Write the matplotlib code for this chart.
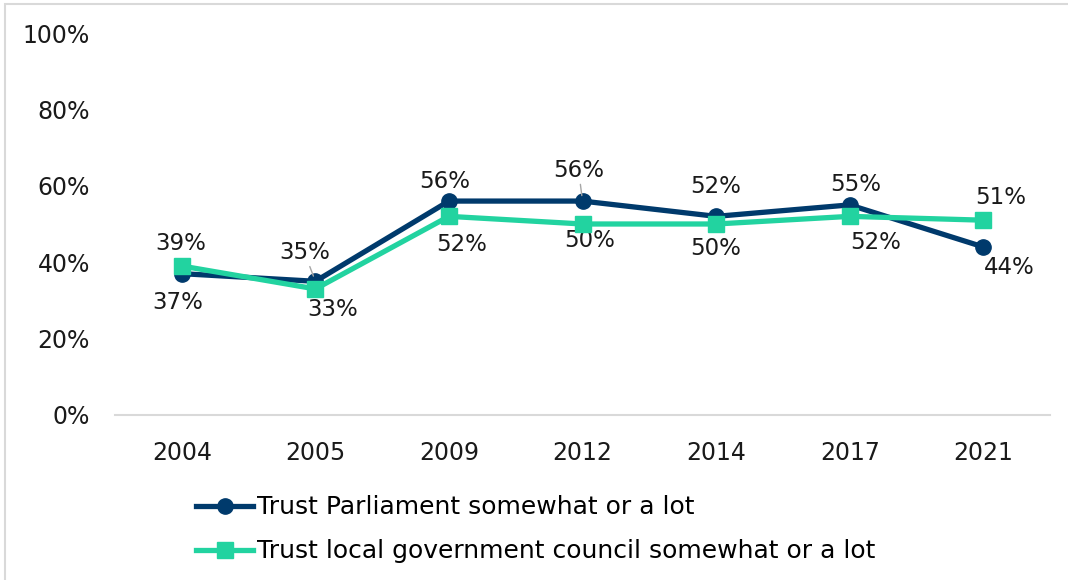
import matplotlib.pyplot as plt
from matplotlib.patches import Rectangle

years = ['2004', '2005', '2009', '2012', '2014', '2017', '2021']
parliament = [37, 35, 56, 56, 52, 55, 44]
local_council = [39, 33, 52, 50, 50, 52, 51]

# label offsets in pixels (dx, dy) from each point
parl_offsets = [(-4, -29), (-11, 29), (-4, 20), (-4, 31), (0, 30), (6, 20), (26, -21)]
local_offsets = [(-1, 23), (17, -21), (13, -28), (7, -17), (0, -25), (26, -26), (17, 23)]
leaders_parl = [1, 3]

navy = '#003A6C'
teal = '#22D3A0'

plt.rcParams['font.family'] = ['DejaVu Sans']

fig = plt.figure(figsize=(10.68, 5.80), dpi=100)
fig.patches.append(Rectangle((0.005, -0.1), 1.2, 1.093, transform=fig.transFigure,
                             fill=False, edgecolor='#d9d9d9', linewidth=1.5))
ax = fig.add_axes([0.1077, 0.2845, 0.8755, 0.6586])

x = list(range(len(years)))
ax.plot(x, parliament, color=navy, linewidth=3.8, marker='o', markersize=11,
        label='Trust Parliament somewhat or a lot', zorder=3)
ax.plot(x, local_council, color=teal, linewidth=3.8, marker='s', markersize=11,
        label='Trust local government council somewhat or a lot', zorder=4)

for i, v in enumerate(parliament):
    dx, dy = parl_offsets[i]
    kw = {}
    if i in leaders_parl:
        kw['arrowprops'] = dict(arrowstyle='-', color='#a6a6a6', lw=1, shrinkA=0, shrinkB=4)
    ax.annotate(f'{v}%', (i, v), xytext=(dx, dy), textcoords='offset pixels',
                ha='center', va='center', fontsize=16.5, color='#1a1a1a', **kw)
for i, v in enumerate(local_council):
    dx, dy = local_offsets[i]
    ax.annotate(f'{v}%', (i, v), xytext=(dx, dy), textcoords='offset pixels',
                ha='center', va='center', fontsize=16.5, color='#1a1a1a')

ax.set_xlim(-0.5, len(years) - 0.5)
ax.set_ylim(0, 100)
ax.set_yticks([0, 20, 40, 60, 80, 100])
ax.set_yticklabels([f'{t}%' for t in [0, 20, 40, 60, 80, 100]])
ax.set_xticks(x)
ax.set_xticklabels(years)
ax.tick_params(axis='both', length=0, labelsize=17, colors='#1a1a1a')
ax.tick_params(axis='y', pad=18)
ax.tick_params(axis='x', pad=19)
for s in ['top', 'right', 'left']:
    ax.spines[s].set_visible(False)
ax.spines['bottom'].set_color('#d9d9d9')
ax.spines['bottom'].set_linewidth(1.5)

fig.legend(loc='upper left', bbox_to_anchor=(0.174, 0.163), frameon=False,
           fontsize=18, handlelength=2.3, handletextpad=0.15, labelspacing=0.8,
           borderaxespad=0)

fig.savefig('out.png', dpi=100)
